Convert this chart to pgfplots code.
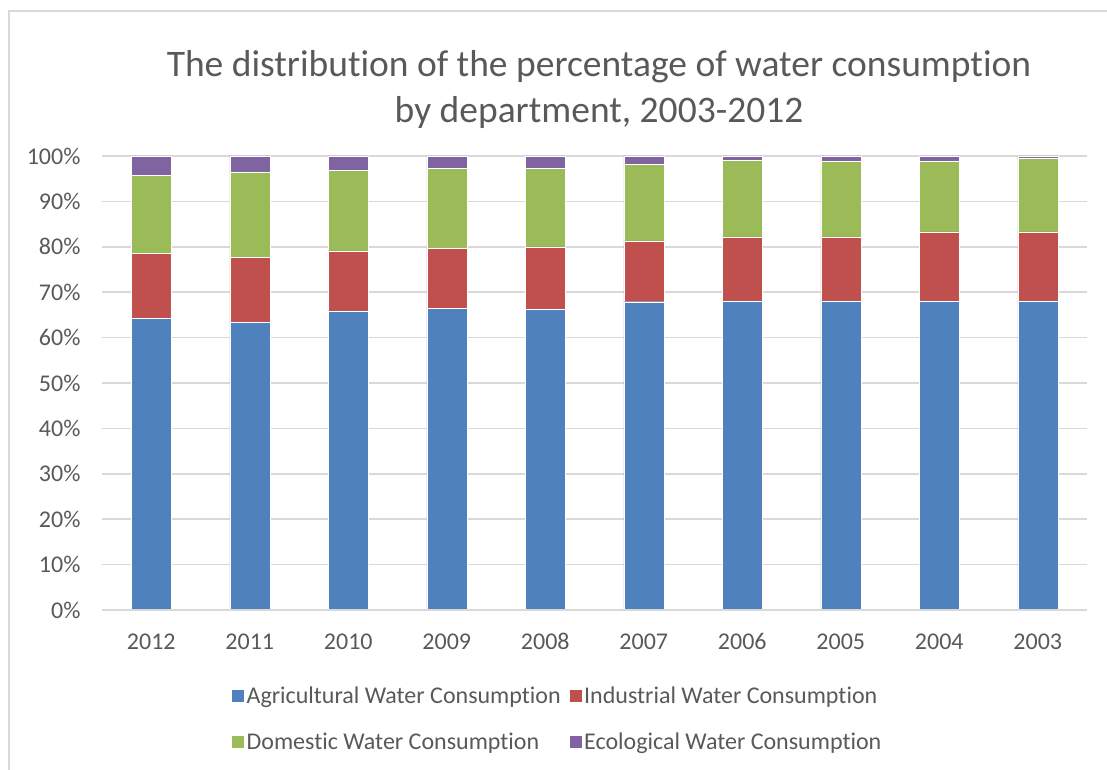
\documentclass[border=0pt]{standalone}
\usepackage{pgfplots}
\pgfplotsset{compat=1.18}
\usepackage{fontspec}
\setmainfont{Carlito}[Ligatures=NoCommon]
\definecolor{cblue}{HTML}{4F81BD}
\definecolor{cred}{HTML}{C0504D}
\definecolor{cgreen}{HTML}{9BBB59}
\definecolor{cpurple}{HTML}{8064A2}
\definecolor{tgray}{HTML}{595959}
\definecolor{ggray}{HTML}{D9D9D9}
\begin{document}
\begin{tikzpicture}[x=1pt,y=1pt]
\useasboundingbox (0,0) rectangle (1107,770);
\draw[ggray, line width=2pt] (8.5,0) -- (8.5,759) -- (1107,759);
\node[align=center, text=tgray, font=\fontsize{37.5}{46}\selectfont] at (599,680) {The distribution of the percentage of water consumption\\by department, 2003-2012};
\begin{axis}[
  at={(102pt,160pt)}, anchor=south west,
  scale only axis, width=985pt, height=454pt,
  ybar stacked, bar width=40pt,
  xmin=-0.5, xmax=9.5, ymin=0, ymax=100,
  xtick={0,...,9},
  xticklabels={2012,2011,2010,2009,2008,2007,2006,2005,2004,2003},
  ytick={0,10,...,100},
  yticklabels={0\%,10\%,20\%,30\%,40\%,50\%,60\%,70\%,80\%,90\%,100\%},
  ymajorgrids, grid style={ggray, line width=1.5pt},
  axis line style={draw=none},
  major tick length=0pt,
  ticklabel style={text=tgray, font=\fontsize{24}{28}\selectfont},
  yticklabel style={xshift=-18pt},
  xticklabel style={yshift=-20pt},
  legend columns=2,
  legend style={at={(axis description cs:0.131,-0.164)}, anchor=north west, draw=none, fill=none,
    font=\fontsize{24}{28}\selectfont, text=tgray,
    /tikz/every even column/.append style={column sep=6pt},
    row sep=24pt, inner sep=0pt},
  legend cell align=left,
  legend image code/.code={\fill[#1] (0pt,-6.5pt) rectangle (13pt,6.5pt);},
]
\draw[ggray, line width=1.5pt] (axis cs:-0.5,0) -- (axis cs:9.5,0);
\addplot[fill=cblue, draw=white, line width=0.4pt] coordinates {(0,64.3) (1,63.4) (2,65.9) (3,66.5) (4,66.3) (5,67.9) (6,68.1) (7,68.1) (8,68.1) (9,68.1)};
\addlegendentry{Agricultural Water Consumption}
\addplot[fill=cred, draw=white, line width=0.4pt] coordinates {(0,14.2) (1,14.2) (2,13.2) (3,13.2) (4,13.7) (5,13.4) (6,14.1) (7,14.1) (8,15.2) (9,15.2)};
\addlegendentry{Industrial Water Consumption}
\addplot[fill=cgreen, draw=white, line width=0.4pt] coordinates {(0,17.3) (1,18.9) (2,17.8) (3,17.6) (4,17.3) (5,16.9) (6,16.8) (7,16.6) (8,15.5) (9,16.3)};
\addlegendentry{Domestic Water Consumption}
\addplot[fill=cpurple, draw=white, line width=0.4pt] coordinates {(0,4.2) (1,3.5) (2,3.1) (3,2.7) (4,2.7) (5,1.8) (6,1.0) (7,1.2) (8,1.2) (9,0.4)};
\addlegendentry{Ecological Water Consumption}
\end{axis}
\end{tikzpicture}
\end{document}
